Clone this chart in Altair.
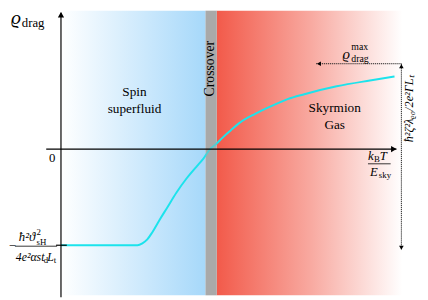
import altair as alt
import pandas as pd

# Diagram units: x = k_B T / E_sky (crossover at 1), y = rho_drag (low-T plateau at -1)
XMIN, XMAX = -0.3553, 2.4079
YMIN, YMAX = -1.5408, 1.4388

curve_x = [0.0, 0.513, 0.546, 0.579, 0.612, 0.658, 0.711, 0.776, 0.842, 0.908, 0.954,
           1.0, 1.039, 1.086, 1.138, 1.191, 1.303, 1.414, 1.520, 1.632, 1.849, 2.072, 2.237]
curve_y = [-1.0, -1.0, -0.980, -0.939, -0.867, -0.745, -0.612, -0.449, -0.306, -0.184, -0.102,
           0.0, 0.051, 0.122, 0.194, 0.265, 0.367, 0.449, 0.520, 0.571, 0.653, 0.714, 0.755]

phase_names = ["Spin superfluid", "Crossover", "Skyrmion Gas"]
phase_start = [0.0, 0.970, 1.044]
phase_end = [0.970, 1.044, 2.289]
phase_floor = -1.520

X = alt.Scale(domain=[XMIN, XMAX], nice=False, zero=False)
Y = alt.Scale(domain=[YMIN, YMAX], nice=False, zero=False)
FONT = "Liberation Serif"


def xy(df):
    return dict(x=alt.X("x:Q", scale=X, axis=None), y=alt.Y("y:Q", scale=Y, axis=None))


def band(i, fill, opacity=1.0):
    df = pd.DataFrame({"x": [phase_start[i]], "x2": [phase_end[i]],
                       "y": [phase_floor], "y2": [YMAX]})
    return alt.Chart(df).mark_rect(fill=fill, opacity=opacity, strokeWidth=0).encode(
        **xy(df), x2="x2:Q", y2="y2:Q")


blue = {"gradient": "linear", "x1": 0, "x2": 1, "y1": 0, "y2": 0,
        "stops": [{"offset": 0, "color": "#ffffff"}, {"offset": 1, "color": "#a6d8fa"}]}
red = {"gradient": "linear", "x1": 0, "x2": 1, "y1": 0, "y2": 0,
       "stops": [{"offset": 0, "color": "#f25a4a"}, {"offset": 0.5, "color": "#f8a89f"},
                 {"offset": 1, "color": "#ffffff"}]}

curve = alt.Chart(pd.DataFrame({"x": curve_x, "y": curve_y})).mark_line(
    color="#1ce3ec", strokeWidth=2, interpolate="monotone").encode(**xy(None))

axes_df = pd.DataFrame({"x": [0, -0.099, -0.033], "x2": [0, 2.25, 0.039],
                        "y": [YMIN, 0, -1], "y2": [1.418, 0, -1]})
axes = alt.Chart(axes_df).mark_rule(color="black", strokeWidth=1.2).encode(
    **xy(None), x2="x2:Q", y2="y2:Q")

dash_df = pd.DataFrame({"x": [2.283, 1.711], "x2": [2.283, 2.283],
                        "y": [0.888, 0.888], "y2": [-1.051, 0.888]})
dashed = alt.Chart(dash_df).mark_rule(color="#222222", strokeWidth=1, strokeDash=[1.2, 0.8]).encode(
    **xy(None), x2="x2:Q", y2="y2:Q")

bars_df = pd.DataFrame({"x": [-0.309, 2.059], "x2": [-0.026, 2.211],
                        "y": [-1.010, -0.153], "y2": [-1.010, -0.153]})
bars = alt.Chart(bars_df).mark_rule(color="black", strokeWidth=0.8).encode(
    **xy(None), x2="x2:Q", y2="y2:Q")

heads_df = pd.DataFrame({"x": [0, 2.232, 2.283, 2.283, 1.730],
                         "y": [1.398, 0, 0.862, -1.025, 0.888],
                         "shape": ["triangle-up", "triangle-right", "triangle-up",
                                   "triangle-down", "triangle-left"],
                         "sz": [40, 40, 22, 22, 22]})
heads = alt.Chart(heads_df).mark_point(filled=True, color="black", opacity=1).encode(
    **xy(None), shape=alt.Shape("shape:N", scale=None), size=alt.Size("sz:Q", scale=None))

italic_df = pd.DataFrame([
    {"t": "ϱ", "x": -0.335, "y": 1.306, "s": 20},
    {"t": "ħ²ϑ", "x": -0.283, "y": -0.959, "s": 13},
    {"t": "4e²αst", "x": -0.303, "y": -1.163, "s": 12},
    {"t": "L", "x": -0.092, "y": -1.163, "s": 12},
    {"t": "ϱ", "x": 1.888, "y": 0.939, "s": 15},
    {"t": "k", "x": 2.059, "y": -0.112, "s": 13},
    {"t": "T", "x": 2.138, "y": -0.112, "s": 13},
    {"t": "E", "x": 2.072, "y": -0.276, "s": 13},
])
roman_df = pd.DataFrame([
    {"t": "drag", "x": -0.263, "y": 1.265, "s": 13},
    {"t": "2", "x": -0.164, "y": -0.898, "s": 9},
    {"t": "sH", "x": -0.164, "y": -1.0, "s": 9},
    {"t": "d", "x": -0.115, "y": -1.184, "s": 9},
    {"t": "t", "x": -0.049, "y": -1.184, "s": 9},
    {"t": "max", "x": 1.947, "y": 1.031, "s": 10},
    {"t": "drag", "x": 1.947, "y": 0.908, "s": 10},
    {"t": "B", "x": 2.099, "y": -0.133, "s": 9},
    {"t": "sky", "x": 2.132, "y": -0.296, "s": 9},
])
center_df = pd.DataFrame([
    {"t": "0", "x": -0.059, "y": -0.092, "s": 13, "a": 0},
    {"t": "−", "x": -0.326, "y": -1.010, "s": 13, "a": 0},
    {"t": "Spin", "x": 0.493, "y": 0.592, "s": 13.5, "a": 0},
    {"t": "superfluid", "x": 0.493, "y": 0.418, "s": 13.5, "a": 0},
    {"t": "Skyrmion", "x": 1.836, "y": 0.429, "s": 13.5, "a": 0},
    {"t": "Gas", "x": 1.836, "y": 0.255, "s": 13.5, "a": 0},
    {"t": "Crossover", "x": 1.0, "y": 0.837, "s": 14, "a": 270},
])
rot_df = pd.DataFrame([
    {"t": "ħ²ζ²λᵨ₀/2e²ΓLₜ", "x": 2.336, "y": 0.418, "s": 12.5, "a": 270},
])


def texts(df, style, align, baseline, angle=False):
    enc = dict(**xy(None), text="t:N", size=alt.Size("s:Q", scale=None))
    if angle:
        enc["angle"] = alt.Angle("a:Q", scale=None)
    return alt.Chart(df).mark_text(font=FONT, fontStyle=style, align=align,
                                   baseline=baseline, color="black").encode(**enc)


chart = alt.layer(
    band(0, blue),
    band(2, red),
    band(1, "#a9a9a9"),
    curve,
    band(1, "#a9a9a9", 0.4),
    axes,
    dashed,
    bars,
    heads,
    texts(italic_df, "italic", "left", "alphabetic"),
    texts(roman_df, "normal", "left", "alphabetic"),
    texts(center_df, "normal", "center", "middle", angle=True),
    texts(rot_df, "italic", "center", "middle", angle=True),
).properties(width=420, height=292, padding=0, autosize="none", background="white"
).configure_view(stroke=None)

chart.save("out.html", embed_options={"renderer": "svg", "actions": False})
